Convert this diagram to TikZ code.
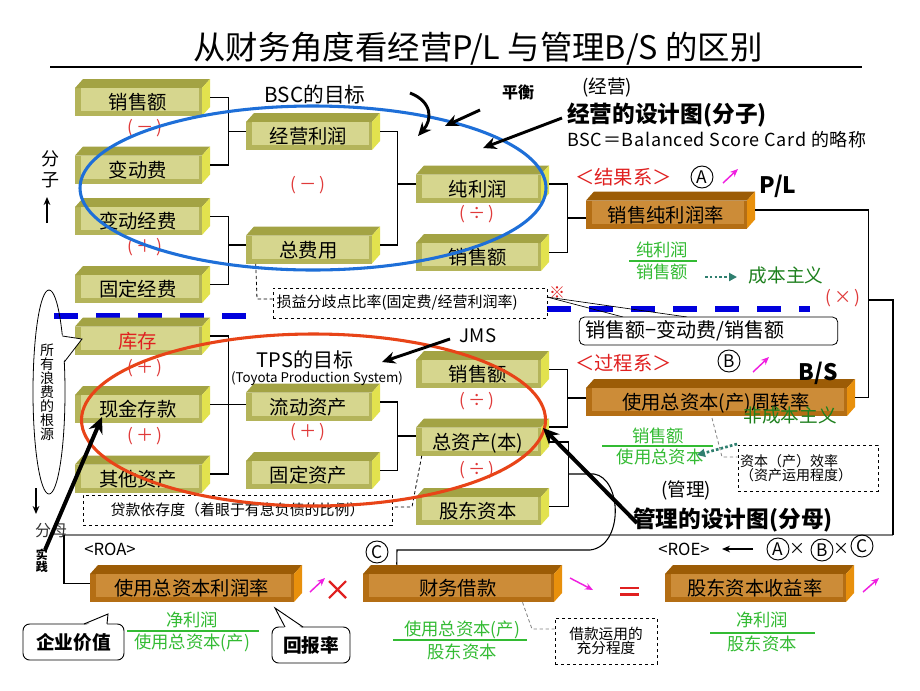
\documentclass[tikz,border=0pt]{standalone}
\usepackage{fontspec}
\setmainfont{Noto Sans CJK SC}
\usetikzlibrary{arrows.meta,calc,shapes.geometric}
\definecolor{oTop}{HTML}{A3A344}
\definecolor{oRight}{HTML}{E2E24E}
\definecolor{oBand}{HTML}{B4B45A}
\definecolor{oFace}{HTML}{D6D68E}
\definecolor{rTop}{HTML}{9C5C06}
\definecolor{rRight}{HTML}{E8900C}
\definecolor{rBand}{HTML}{B46E14}
\definecolor{rFace}{HTML}{CC8C38}
\definecolor{opRed}{HTML}{E03A3A}
\definecolor{ttRed}{HTML}{E02020}
\definecolor{bGreen}{HTML}{33BB33}
\definecolor{dGreen}{HTML}{1E801E}
\definecolor{myTeal}{HTML}{2F7F6F}
\definecolor{magArrow}{HTML}{F020E0}
\definecolor{ellBlue}{HTML}{1E6FD8}
\definecolor{ellRed}{HTML}{E84418}
\definecolor{dashBlue}{HTML}{0000DD}
\newcommand\fz[1]{\fontsize{#1}{#1}\selectfont}
\newcommand\bevelfill[4]{%
 \coordinate (NW) at (path picture bounding box.north west);
 \coordinate (SE) at (path picture bounding box.south east);
 \coordinate (NE) at (NW -| SE);
 \coordinate (SW) at (SE -| NW);
 \fill[#3] (SW) -- ($(NW)+(0,9)$) -- ($(NE)+(-8,9)$) -- ($(SE)+(-8,0)$) -- cycle;
 \fill[#1] ($(NW)+(0,9)$) -- ($(NW)+(8,0)$) -- (NE) -- ($(NE)+(-8,9)$) -- cycle;
 \fill[#2] ($(NE)+(-8,9)$) -- (NE) -- ($(SE)+(0,-9)$) -- ($(SE)+(-8,0)$) -- cycle;
 \fill[#4] ($(NW)+(6,9)$) rectangle ($(SE)+(-11,-5)$);
}
\begin{document}
\begin{tikzpicture}[x=0.75pt,y=-0.75pt,
  conn/.style={line width=0.8pt},
  obox/.style={inner sep=0pt, minimum width=#1, minimum height=27.75pt, text height=18pt, text depth=0pt, font=\fz{14.5pt}, execute at begin node={\hspace*{-7pt}}, path picture={\bevelfill{oTop}{oRight}{oBand}{oFace}}},
  rbox/.style={inner sep=0pt, minimum width=#1, minimum height=27.75pt, text height=18pt, text depth=0pt, font=\fz{14.5pt}, execute at begin node={\hspace*{-7pt}}, path picture={\bevelfill{rTop}{rRight}{rBand}{rFace}}},
  op/.style={text=opRed, font=\fz{13pt}, inner sep=0pt},
  lbl/.style={inner sep=0pt},
  dbox/.style={draw, dash pattern=on 2.5pt off 2pt, line width=0.6pt, fill=white, inner sep=1.5pt},
  dline/.style={dash pattern=on 2.5pt off 2pt, line width=0.6pt},
  bigarrow/.style={line width=3pt, -{Stealth[length=12pt,width=11pt]}},
  medarrow/.style={line width=2.2pt, -{Stealth[length=10pt,width=9pt]}},
  magarrow/.style={magArrow, line width=1.1pt, -{Stealth[length=6pt,width=5pt]}},
  dotarrow/.style={myTeal, line width=2pt, dash pattern=on 2pt off 1.6pt, -{Triangle[length=6pt,width=6pt]}},
  circ/.style={draw, circle, line width=0.7pt, minimum size=16.5pt, inner sep=0pt, font=\fz{13pt}},
  frac/.style={text=bGreen, font=\fz{13pt}, inner sep=0pt},
  callout/.style={draw, rounded corners=5pt, line width=0.7pt, fill=white, inner sep=0pt, font=\fz{14pt}\bfseries},
]
\useasboundingbox (0,0) rectangle (920,690);
\fill[white] (0,0) rectangle (920,690);

% title
\node[lbl, font=\fz{24.3pt}] (title) at (478,49) {从财务角度看经营P/L 与管理B/S 的区别};
\draw[line width=2pt] (50,67) -- (862,67);

% blue dashed separator
\draw[dashBlue, line width=4.5pt, dash pattern=on 18pt off 13.5pt] (54,315.5) -- (262,315.5);
\draw[dashBlue, line width=4.5pt, dash pattern=on 18pt off 13.5pt] (547,308.5) -- (810,308.5);

% gray separator
\draw[gray, line width=1.5pt] (893,535) -- (64,535);

% olive boxes (P/L)
\node[obox=101.25pt] (a1) at (142.5,97.5) {销售额};
\node[obox=101.25pt] (a2) at (142.5,165) {变动费};
\node[obox=101.25pt] (a3) at (142.5,216.5) {变动经费};
\node[obox=101.25pt] (a4) at (142.5,284.5) {固定经费};
\node[obox=100.5pt] (b1) at (313,131.5) {经营利润};
\node[obox=100.5pt] (b2) at (313,245) {总费用};
\node[obox=99.75pt] (c1) at (482.5,184) {纯利润};
\node[obox=99.75pt] (c2) at (482.5,252.5) {销售额};
% olive boxes (B/S)
\node[obox=101.25pt, text=ttRed] (a5) at (142.5,336) {库存};
\node[obox=101.25pt] (a6) at (142.5,404.5) {现金存款};
\node[obox=101.25pt] (a7) at (142.5,474) {其他资产};
\node[obox=100.5pt] (b3) at (313,402) {流动资产};
\node[obox=100.5pt] (b4) at (313,470.5) {固定资产};
\node[obox=99.75pt] (c3) at (482.5,369.5) {销售额};
\node[obox=99.75pt] (c4) at (482.5,437) {总资产(本)};
\node[obox=99.75pt] (c5) at (482.5,506.5) {股东资本};
% orange boxes
\node[rbox=126.75pt] (s1) at (670.5,210) {销售纯利润率};
\node[rbox=201.75pt] (s2) at (720.5,397.5) {使用总资本(产)周转率};
\node[rbox=159pt] (r1) at (196,583.5) {使用总资本利润率};
\node[rbox=149.25pt] (r2) at (462.5,583.5) {财务借款};
\node[rbox=141.75pt] (r3) at (759.5,583.5) {股东资本收益率};

% operators
\node[op] (o1) at (145,128) {(\,－\,)};
\node[op] (o2) at (145,247) {(\,＋\,)};
\node[op] (o3) at (308,185) {(\,－\,)};
\node[op] (o4) at (477,214) {(\,÷\,)};
\node[op] (o5) at (145,368) {(\,＋\,)};
\node[op] (o6) at (145,436) {(\,＋\,)};
\node[op] (o7) at (308,432) {(\,＋\,)};
\node[op] (o8) at (477,401) {(\,÷\,)};
\node[op] (o9) at (477,470) {(\,÷\,)};
\node[op] (o10) at (843,298) {(\,×\,)};

% bracket connectors
\draw[conn] (a1.east) -- ++(18,0) |- (a2.east);
\draw[conn] (b1.west) -- ++(-18,0);
\draw[conn] (a3.east) -- ++(18,0) |- (a4.east);
\draw[conn] (b2.west) -- ++(-18,0);
\draw[conn] (b1.east) -- ++(17,0) |- (b2.east);
\draw[conn] (c1.west) -- ++(-19,0);
\draw[conn] (c1.east) -- ++(18,0) |- (c2.east);
\coordinate (k1) at (567,218);
\draw[conn] (k1) -- (k1 -| s1.west);
\draw[conn] (a5.east) -- ++(18,0) |- (a7.east);
\draw[conn] (a6.east) -- (a6.east -| b3.west);
\draw[conn] (b3.east) -- ++(17,0) |- (b4.east);
\coordinate (k2) at (397,436);
\draw[conn] (k2) -- (k2 -| c4.west);
\draw[conn] (c3.east) -- ++(18,0) |- ([yshift=7.5pt]c4.east);
\coordinate (k3) at (567,398);
\draw[conn] (k3) -- (k3 -| s2.west);
\draw[conn] ([yshift=-3.75pt]c4.east) -- ++(19,0) |- (c5.east);
\coordinate (cj) at (568,474);
\draw[conn] (cj) -- (594,474) .. controls (622,478) and (624,546) .. (590,550) -- (397,550) -- ($(r2.north west)+(34,0)$);
% right side connectors
\draw[conn] (s1.east) -- ++(113,0) |- (s2.east);
\coordinate (j1) at (868,300);
\draw[conn] (j1) -- (893,300) -- (893,535);
\draw[conn] (64,535) |- (r1.west);

% dashed boxes
\node[dbox, minimum width=205.5pt, minimum height=22.5pt, font=\fz{11.25pt}, text width=200pt, align=left] (sy) at (410,303) {损益分歧点比率(固定费/经营利润率)};
\coordinate (d2) at (257,299);
\draw[dline] ([xshift=7.5pt]b2.south west) -- (d2) -- (d2 -| sy.west);
\node[dbox, minimum width=231.75pt, minimum height=22.5pt, font=\fz{11.2pt}] (dk) at (237.5,510) {贷款依存度（着眼于有息负债的比例）};
\coordinate (d1) at (412,507);
\draw[dline] ([xshift=4.5pt]c4.south west) -- (d1) -- (d1 -| dk.east);
\node[dbox, minimum width=105pt, minimum height=34.5pt, font=\fz{10.5pt}, align=left, text width=102pt] (zb) at (808,468) {资本（产）效率\\ （资产运用程度）};
\coordinate (d4) at (722,457);
\draw[dline, gray] (712,418) -- (d4) -- (d4 -| zb.west);
\node[dbox, minimum width=76.5pt, minimum height=34.5pt, font=\fz{11pt}, align=center] (jk) at (606,641) {借款运用的\\充分程度};
\coordinate (d3) at (532,629);
\draw[dline, gray] ([xshift=45pt]r2.south) -- (d3) -- (d3 -| jk.west);

% callout for sales ratio
\coordinate (tip1) at (547,297);
\draw[line width=0.5pt] (tip1) -- (623,317);
\draw[line width=0.5pt] (tip1) -- (687,317);
\node[draw, rounded corners=4pt, line width=0.6pt, fill=white, minimum width=194pt, minimum height=21pt, font=\fz{15pt}, text width=188pt, align=left, inner sep=0pt] (cb) at (708.5,331) {\hspace*{2pt}销售额−变动费/销售额};
\node[lbl, text=ttRed, font=\fz{12pt}] (kome) at (557,293) {※};

% labels top
\node[lbl, font=\fz{15.5pt}] (bsc) at (315,95) {BSC的目标};
\node[lbl, font=\fz{12pt}\bfseries] (ph) at (518,92) {平衡};
\node[lbl, font=\fz{14pt}] (jy) at (607,87) {(经营)};
\node[lbl, font=\fz{17pt}\bfseries, anchor=west] (jysj) at (567,115) {经营的设计图(分子)};
\node[lbl, font=\fz{13.5pt}, anchor=west] (bscf) at (567,140) {\addfontfeature{LetterSpace=4}BSC＝Balanced Score Card 的略称};
\node[lbl, text=ttRed, font=\fz{14.5pt}, anchor=west] (jg) at (575,177) {＜结果系＞};
\node[circ] (ca) at (702,177) {A};
\draw[magarrow] (723,183) -- (738,169);
\node[lbl, font=\fz{17pt}\bfseries] (pl) at (778,186) {P/L};
\node[frac] (f1n) at (662,250) {纯利润};
\draw[bGreen, line width=0.8pt] (629,261) -- (697,261);
\node[frac] (f1d) at (662,272) {销售额};
\draw[dotarrow] (705,277) -- (737,277);
\node[lbl, text=dGreen, font=\fz{14pt}] (cbzy) at (786,275) {成本主义};

% labels middle
\node[lbl, text=ttRed, font=\fz{14.5pt}, anchor=west] (gc) at (575,363) {＜过程系＞};
\node[circ] (cb2) at (729,361) {B};
\draw[magarrow] (753,372) -- (769,357);
\node[lbl, font=\fz{17pt}\bfseries] (bs) at (818,373) {B/S};
\node[lbl, text=dGreen, font=\fz{14pt}] (fcb) at (790,415) {非成本主义};
\node[frac] (f2n) at (658,436) {销售额};
\draw[bGreen, line width=0.8pt] (602,446) -- (713,446);
\node[frac] (f2d) at (660,457) {使用总资本};
\draw[dotarrow] (737,444) -- (697,455);
\node[lbl, font=\fz{14pt}] (gl) at (686,490) {(管理)};
\node[lbl, font=\fz{17pt}\bfseries, anchor=west] (glsj) at (633,520) {管理的设计图(分母)};
\node[lbl, font=\fz{14pt}] (jms) at (478,336) {JMS};
\node[lbl, font=\fz{15pt}] (tps) at (305,360) {TPS的目标};
\node[lbl, font=\fz{10pt}] (tpsf) at (317,379) {(Toyota Production System)};

% left side
\node[lbl, font=\fz{13.5pt}, align=center] (fz) at (50,169) {分\\[2pt]子};
\draw[line width=1.2pt, -{Stealth[length=6pt,width=5pt]}] (47,223) -- (47,197);
\node[draw, ellipse, line width=0.6pt, minimum width=24pt, minimum height=153pt, inner sep=0pt] (ws) at (49,392) {};
\fill[white] (60,335) -- (82,339) -- (62,363) -- cycle;
\draw[line width=0.6pt] (62.4,336) -- (82,339) -- (64.3,362);
\node[lbl, font=\fz{10.5pt}, align=center] (wst) at (47,392) {所\\[0pt]有\\浪\\费\\的\\根\\源};
\draw[line width=1.2pt, -{Stealth[length=6pt,width=5pt]}] (36,488) -- (36,514);
\node[lbl, font=\fz{12pt}, text=black!80] (fm) at (51,531) {分母};
\node[lbl, font=\fz{9pt}\bfseries, align=center] (sj) at (42,561) {实\\践};

% bottom labels
\node[lbl, font=\fz{12.5pt}] (roa) at (110,549) {<ROA>};
\node[circ] (cc) at (377,552) {C};
\node[lbl, font=\fz{12.5pt}] (roe) at (684,549) {<ROE>};
\draw[line width=1pt, -{Stealth[length=6pt,width=5pt]}] (753,549) -- (722,549);
\node[circ] (ra) at (778,549) {A};
\node[lbl, font=\fz{12pt}] (x1) at (797,549) {×};
\node[circ] (rb) at (822,550) {B};
\node[lbl, font=\fz{12pt}] (x2) at (841,549) {×};
\node[circ] (rc) at (862,546) {C};

\draw[magarrow] (310,592) -- (325,578);
\draw[ttRed, line width=1.6pt] (329,581) -- (346,598) (346,581) -- (329,598);
\draw[magarrow] (570,578) -- (593,590);
\draw[ttRed, line width=2pt] (620,588) -- (639,588) (620,594.5) -- (639,594.5);
\draw[magarrow] (863,592) -- (879,578);

\node[frac] (f3n) at (192,620) {净利润};
\draw[bGreen, line width=0.8pt] (127,631) -- (259,631);
\node[frac] (f3d) at (192,643) {使用总资本(产)};
\node[frac] (f4n) at (462,630) {使用总资本(产)};
\draw[bGreen, line width=0.8pt] (393,640) -- (527,640);
\node[frac] (f4d) at (462,652) {股东资本};
\node[frac] (f5n) at (762,620) {净利润};
\draw[bGreen, line width=0.8pt] (710,633) -- (815,633);
\node[frac] (f5d) at (762,644) {股东资本};

\node[callout, minimum width=75.75pt, minimum height=27pt] (qy) at (73.5,642) {企业价值};
\fill[white] (84,626) -- (108,614) -- (107,626) -- cycle;
\draw[line width=0.7pt] (84,624) -- (108,614) -- (107,624);
\node[callout, minimum width=58.5pt, minimum height=27pt] (hb) at (311,645) {回报率};
\fill[white] (285,629) -- (275,608) -- (303,629) -- cycle;
\draw[line width=0.7pt] (285,627) -- (275,608) -- (303,627);

% ellipses
\draw[ellBlue, line width=2.3pt] (313,188) ellipse [x radius=233, y radius=82];
\draw[ellRed, line width=2.3pt] (313.5,420) ellipse [x radius=232, y radius=86];

% black arrows
\draw[medarrow] (410,93) .. controls (433,102) and (432,120) .. (418,136);
\draw[medarrow] (480,110) -- (445,126);
\draw[medarrow] (562,118) -- (483,148);
\draw[medarrow] (450,339) -- (382,362);
\draw[bigarrow] (45,550) -- (102,417);
\draw[bigarrow] (637,523) -- (543,428);
\end{tikzpicture}
\end{document}
